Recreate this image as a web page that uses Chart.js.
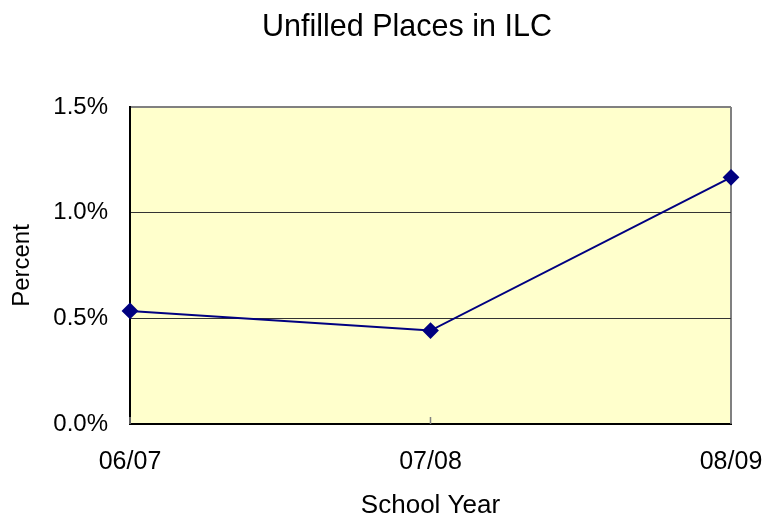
<!DOCTYPE html>
<html>
<head>
<meta charset="utf-8">
<script src="https://cdn.jsdelivr.net/npm/chart.js@4/dist/chart.umd.min.js"></script>
<style>
  html, body { margin: 0; padding: 0; background: #fff; }
  #wrap { width: 766px; height: 519px; }
</style>
</head>
<body>
<div id="wrap"><canvas id="chartILC" width="766" height="519"></canvas></div>
<script>
( () => {

  let chartTitle = 'Unfilled Places in ILC';
  let schoolYears = ['06/07', '07/08', '08/09'];
  let unfilledPct = [0.535, 0.442, 1.167];
  let yTicks = [0, 0.5, 1.0, 1.5];

  const fontFamily = 'Liberation Sans, Arial, sans-serif';

  // yellow plot background + title (title sits off-centre in the original)
  const plotBg = {
    id: 'plotBg',
    beforeDraw(chart) {
      const { ctx, chartArea: a } = chart;
      ctx.save();
      ctx.fillStyle = '#FFFFCC';
      ctx.fillRect(a.left, a.top, a.right - a.left, a.bottom - a.top);
      ctx.fillStyle = '#000';
      ctx.font = '30.5px ' + fontFamily;
      ctx.textAlign = 'center';
      ctx.textBaseline = 'middle';
      ctx.fillText(chartTitle, 407, 28);
      ctx.restore();
    }
  };

  // small tick marks pointing into the plot
  const innerTicks = {
    id: 'innerTicks',
    afterDatasetsDraw(chart) {
      const { ctx, chartArea: a, scales } = chart;
      ctx.save();
      ctx.strokeStyle = '#808080';
      ctx.lineWidth = 1.5;
      ctx.beginPath();
      schoolYears.forEach((s, i) => {
        const x = scales.x.getPixelForValue(i);
        ctx.moveTo(x, a.bottom);
        ctx.lineTo(x, a.bottom - 7);
      });
      ctx.stroke();
      ctx.restore();
    }
  };

  const ctx = document.getElementById('chartILC').getContext('2d');

  new Chart(ctx, {
    type: 'line',
    data: {
      labels: schoolYears,
      datasets: [{
        label: 'Unfilled Places',
        data: unfilledPct,
        borderColor: '#000080',
        backgroundColor: '#000080',
        borderWidth: 2,
        pointStyle: 'rectRot',
        pointRadius: 7,
        pointHoverRadius: 7,
        fill: false,
        tension: 0
      }]
    },
    options: {
      responsive: false,
      animation: false,
      layout: { padding: { left: 0, right: 35, top: 107, bottom: 0 } },
      plugins: {
        legend: { display: false },
        tooltip: { enabled: false },
        title: { display: false }
      },
      scales: {
        x: {
          type: 'category',
          offset: false,
          afterFit: (scale) => {
            scale.height = 95;
            scale.paddingLeft = 0;
            scale.paddingRight = 0;
          },
          grid: {
            drawTicks: false,
            color: (c) => c.index === schoolYears.length - 1 ? '#808080' : 'rgba(0,0,0,0)',
            lineWidth: 2
          },
          border: { display: true, color: '#000', width: 2 },
          ticks: {
            color: '#000',
            padding: 23,
            maxRotation: 0,
            font: { family: fontFamily, size: 25 }
          },
          title: {
            display: true,
            text: 'School Year',
            color: '#000',
            font: { family: fontFamily, size: 26, lineHeight: 1 },
            padding: { top: 0, bottom: 0 }
          }
        },
        y: {
          min: 0,
          max: 1.5,
          afterFit: (scale) => {
            scale.width = 130;
            scale.paddingTop = 0;
            scale.paddingBottom = 0;
          },
          afterBuildTicks: (scale) => { scale.ticks = yTicks.map(v => ({ value: v })); },
          grid: {
            drawTicks: false,
            color: (c) => c.tick && c.tick.value === 1.5 ? '#808080' : '#333333',
            lineWidth: (c) => c.tick && c.tick.value === 1.5 ? 2 : 1
          },
          border: { display: true, color: '#000', width: 2 },
          ticks: {
            color: '#000',
            padding: 22,
            callback: (v) => Number(v).toFixed(1) + '%',
            font: { family: fontFamily, size: 24 }
          },
          title: {
            display: true,
            text: 'Percent',
            color: '#000',
            font: { family: fontFamily, size: 24, lineHeight: 1 },
            padding: { top: 10, bottom: 0 }
          }
        }
      }
    },
    plugins: [plotBg, innerTicks]
  });

})();
</script>
</body>
</html>
